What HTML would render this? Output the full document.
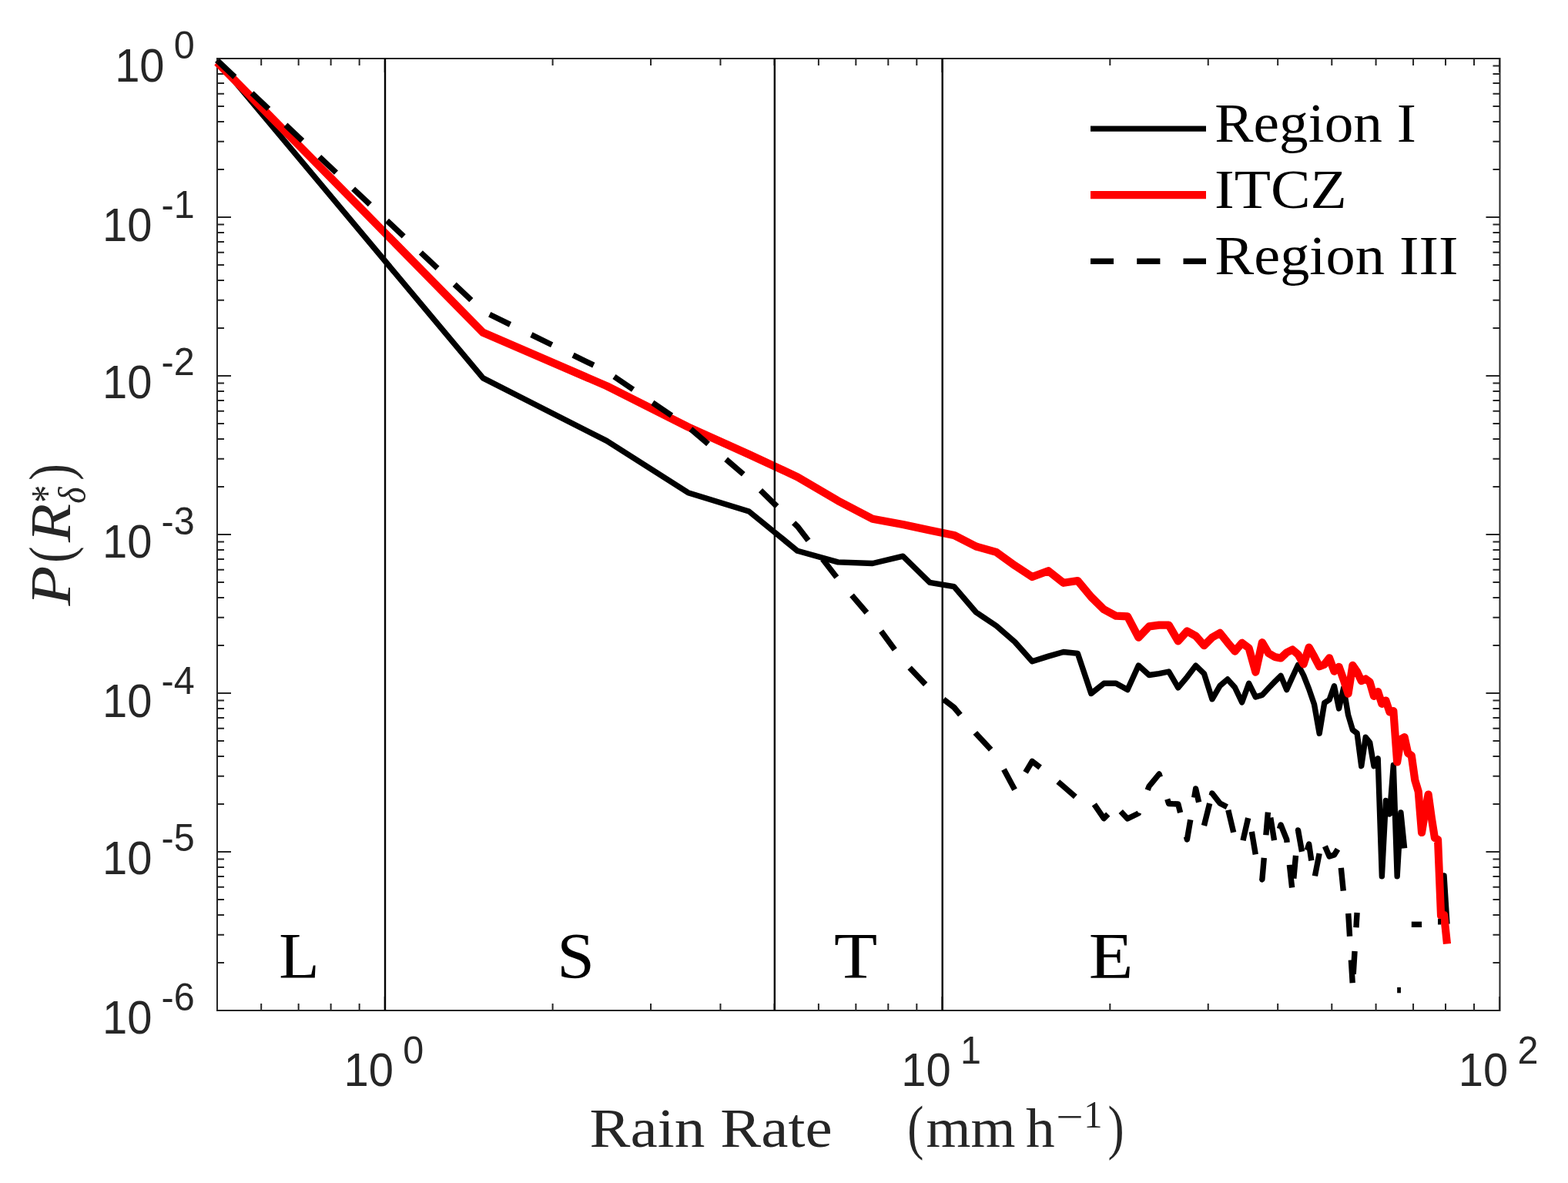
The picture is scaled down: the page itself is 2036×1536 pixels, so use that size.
<!DOCTYPE html>
<html><head><meta charset="utf-8"><title>Rain rate distribution</title>
<style>html,body{margin:0;padding:0;background:#fff;} svg{display:block;}</style></head>
<body>
<svg width="2036" height="1536" viewBox="0 0 2036 1536">
<rect width="2036" height="1536" fill="#fff"/>
<path d="M282,76.1L300,76.1 M1947.5,76.1L1929.5,76.1 M282,220.09L291,220.09 M1947.5,220.09L1938.5,220.09 M282,183.81L291,183.81 M1947.5,183.81L1938.5,183.81 M282,158.08L291,158.08 M1947.5,158.08L1938.5,158.08 M282,138.11L291,138.11 M1947.5,138.11L1938.5,138.11 M282,121.8L291,121.8 M1947.5,121.8L1938.5,121.8 M282,108.01L291,108.01 M1947.5,108.01L1938.5,108.01 M282,96.06L291,96.06 M1947.5,96.06L1938.5,96.06 M282,85.53L291,85.53 M1947.5,85.53L1938.5,85.53 M282,282.1L300,282.1 M1947.5,282.1L1929.5,282.1 M282,426.09L291,426.09 M1947.5,426.09L1938.5,426.09 M282,389.81L291,389.81 M1947.5,389.81L1938.5,389.81 M282,364.08L291,364.08 M1947.5,364.08L1938.5,364.08 M282,344.11L291,344.11 M1947.5,344.11L1938.5,344.11 M282,327.8L291,327.8 M1947.5,327.8L1938.5,327.8 M282,314.01L291,314.01 M1947.5,314.01L1938.5,314.01 M282,302.06L291,302.06 M1947.5,302.06L1938.5,302.06 M282,291.53L291,291.53 M1947.5,291.53L1938.5,291.53 M282,488.1L300,488.1 M1947.5,488.1L1929.5,488.1 M282,632.09L291,632.09 M1947.5,632.09L1938.5,632.09 M282,595.81L291,595.81 M1947.5,595.81L1938.5,595.81 M282,570.08L291,570.08 M1947.5,570.08L1938.5,570.08 M282,550.11L291,550.11 M1947.5,550.11L1938.5,550.11 M282,533.8L291,533.8 M1947.5,533.8L1938.5,533.8 M282,520.01L291,520.01 M1947.5,520.01L1938.5,520.01 M282,508.06L291,508.06 M1947.5,508.06L1938.5,508.06 M282,497.53L291,497.53 M1947.5,497.53L1938.5,497.53 M282,694.1L300,694.1 M1947.5,694.1L1929.5,694.1 M282,838.09L291,838.09 M1947.5,838.09L1938.5,838.09 M282,801.81L291,801.81 M1947.5,801.81L1938.5,801.81 M282,776.08L291,776.08 M1947.5,776.08L1938.5,776.08 M282,756.11L291,756.11 M1947.5,756.11L1938.5,756.11 M282,739.8L291,739.8 M1947.5,739.8L1938.5,739.8 M282,726.01L291,726.01 M1947.5,726.01L1938.5,726.01 M282,714.06L291,714.06 M1947.5,714.06L1938.5,714.06 M282,703.53L291,703.53 M1947.5,703.53L1938.5,703.53 M282,900.1L300,900.1 M1947.5,900.1L1929.5,900.1 M282,1044.09L291,1044.09 M1947.5,1044.09L1938.5,1044.09 M282,1007.81L291,1007.81 M1947.5,1007.81L1938.5,1007.81 M282,982.08L291,982.08 M1947.5,982.08L1938.5,982.08 M282,962.11L291,962.11 M1947.5,962.11L1938.5,962.11 M282,945.8L291,945.8 M1947.5,945.8L1938.5,945.8 M282,932.01L291,932.01 M1947.5,932.01L1938.5,932.01 M282,920.06L291,920.06 M1947.5,920.06L1938.5,920.06 M282,909.53L291,909.53 M1947.5,909.53L1938.5,909.53 M282,1106.1L300,1106.1 M1947.5,1106.1L1929.5,1106.1 M282,1250.09L291,1250.09 M1947.5,1250.09L1938.5,1250.09 M282,1213.81L291,1213.81 M1947.5,1213.81L1938.5,1213.81 M282,1188.08L291,1188.08 M1947.5,1188.08L1938.5,1188.08 M282,1168.11L291,1168.11 M1947.5,1168.11L1938.5,1168.11 M282,1151.8L291,1151.8 M1947.5,1151.8L1938.5,1151.8 M282,1138.01L291,1138.01 M1947.5,1138.01L1938.5,1138.01 M282,1126.06L291,1126.06 M1947.5,1126.06L1938.5,1126.06 M282,1115.53L291,1115.53 M1947.5,1115.53L1938.5,1115.53 M282,1312.1L300,1312.1 M1947.5,1312.1L1929.5,1312.1 M499.76,1312L499.76,1294 M499.76,76L499.76,94 M1223.46,1312L1223.46,1294 M1223.46,76L1223.46,94 M1947.16,1312L1947.16,1294 M1947.16,76L1947.16,94 M339.2,1312L339.2,1303 M339.2,76L339.2,85 M387.65,1312L387.65,1303 M387.65,76L387.65,85 M429.62,1312L429.62,1303 M429.62,76L429.62,85 M466.64,1312L466.64,1303 M466.64,76L466.64,85 M717.61,1312L717.61,1303 M717.61,76L717.61,85 M845.05,1312L845.05,1303 M845.05,76L845.05,85 M935.47,1312L935.47,1303 M935.47,76L935.47,85 M1005.6,1312L1005.6,1303 M1005.6,76L1005.6,85 M1062.9,1312L1062.9,1303 M1062.9,76L1062.9,85 M1111.35,1312L1111.35,1303 M1111.35,76L1111.35,85 M1153.32,1312L1153.32,1303 M1153.32,76L1153.32,85 M1190.34,1312L1190.34,1303 M1190.34,76L1190.34,85 M1441.31,1312L1441.31,1303 M1441.31,76L1441.31,85 M1568.75,1312L1568.75,1303 M1568.75,76L1568.75,85 M1659.17,1312L1659.17,1303 M1659.17,76L1659.17,85 M1729.3,1312L1729.3,1303 M1729.3,76L1729.3,85 M1786.6,1312L1786.6,1303 M1786.6,76L1786.6,85 M1835.05,1312L1835.05,1303 M1835.05,76L1835.05,85 M1877.02,1312L1877.02,1303 M1877.02,76L1877.02,85 M1914.04,1312L1914.04,1303 M1914.04,76L1914.04,85" stroke="#262626" stroke-width="2" fill="none"/>
<rect x="282" y="76" width="1665.5" height="1236" fill="none" stroke="#262626" stroke-width="2"/>
<g fill="none" stroke-linejoin="round" stroke-linecap="butt">
<path d="M281.9,78.3 L627.19,490.9 L787.74,572.4 L893.5,639.7 L972.49,664 L1035.56,715.3 L1088.06,729.9 L1133.04,731.5 L1172.38,722.2 L1207.33,756.4 L1238.79,761.6 L1267.38,795 L1293.59,812.5 L1317.78,833.5 L1340.24,858.7 L1361.2,852.1 L1380.85,846.5 L1399.34,848.4 L1416.81,900.5 L1433.35,887.3 L1449.07,887.3 L1464.04,895.6 L1478.33,864 L1492,876.5 L1505.09,874.6 L1517.67,872 L1529.76,892.8 L1541.4,879.1 L1552.63,864.2 L1563.47,874.6 L1573.94,907.8 L1584.08,890.3 L1593.91,882 L1603.43,892.5 L1612.68,911.8 L1621.66,887.3 L1630.39,905 L1638.88,902.4 L1647.15,893.5 L1655.21,885.2 L1663.07,877.4 L1670.74,895.6 L1678.22,879 L1685.53,863.3 L1692.67,876.9 L1699.66,894.6 L1706.49,914.5 L1713.18,952.3 L1719.73,912.7 L1726.14,908.5 L1732.43,890.8 L1738.59,920 L1744.63,893 L1750.57,928.3 L1756.39,947.8 L1762.1,952 L1767.71,994.7 L1773.23,957.2 L1778.65,964 L1783.97,994.7 L1789.21,984.8 L1794.36,1137.8 L1799.43,1039.4 L1804.42,1057 L1809.33,993.5 L1814.17,1137.8 L1818.93,1055 L1823.62,1101.4" stroke="#000" stroke-width="7.4"/>
<path d="M1871.07,1160 L1875.05,1137 L1878.98,1199.7" stroke="#000" stroke-width="7.4"/>
<path d="M281.9,80.8 L627.19,431.8 L787.74,501.1 L893.5,554.4 L972.49,590 L1035.56,619.3 L1088.06,650.2 L1133.04,673.7 L1172.38,681 L1207.33,688.4 L1238.79,694.9 L1267.38,709.5 L1293.59,716.8 L1317.78,734.3 L1340.24,749 L1361.2,741.2 L1380.85,756.8 L1399.34,754 L1416.81,775 L1433.35,791.3 L1449.07,799.7 L1464.04,800.4 L1478.33,827.7 L1492,813.4 L1505.09,811.6 L1517.67,811.6 L1529.76,832.4 L1541.4,819.5 L1552.63,825.7 L1563.47,838.1 L1573.94,827.7 L1584.08,821.8 L1593.91,834.2 L1603.43,845.6 L1612.68,834.7 L1621.66,841.5 L1630.39,872.7 L1638.88,834.2 L1647.15,848.2 L1655.21,852.9 L1663.07,854.5 L1670.74,847.2 L1678.22,843.5 L1685.53,849.8 L1692.67,862.3 L1699.66,840.6 L1706.49,852.6 L1713.18,865.3 L1719.73,862.7 L1726.14,854.4 L1732.43,871.6 L1738.59,865.8 L1744.63,882.5 L1750.57,900.7 L1756.39,863.8 L1762.1,872.1 L1767.71,884.1 L1773.23,881.5 L1778.65,885.6 L1783.97,903.9 L1789.21,898.1 L1794.36,913.8 L1799.43,909.6 L1804.42,924.5 L1809.33,923.1 L1814.17,989.4 L1818.93,960 L1823.62,957.2 L1828.24,978 L1832.8,981 L1837.29,1013 L1841.72,1027.7 L1846.08,1081 L1850.39,1054 L1854.63,1031.5 L1858.83,1062 L1862.96,1088 L1867.04,1090 L1871.07,1189 L1875.05,1188 L1878.98,1225.5" stroke="#f00" stroke-width="10.2"/>
<path d="M283.21,79.54 L304.88,99.99 M327.07,120.92 L348.74,141.37 M370.93,162.3 L392.6,182.75 M414.78,203.68 L436.46,224.13 M458.64,245.07 L480.32,265.52 M502.5,286.45 L524.18,306.9 M546.36,327.83 L568.04,348.28 M590.22,369.21 L611.89,389.66 M635.7,408.25 L662.48,421.31 M689.9,434.68 L716.68,447.74 M744.1,461.11 L770.88,474.18 M797.46,488.99 L822.13,505.71 M847.37,522.83 L872.04,539.55 M896.96,557.08 L919.56,576.51 M942.69,596.39 L965.29,615.81 M987.52,636.68 L1008.83,657.5 M1030.65,678.81 L1035.56,683.6 L1049.55,701.78 M1068.16,725.95 L1086.34,749.56 M1106.05,772.84 L1125.41,795.49 M1144.16,819.52 L1161.81,843.53 M1181.12,867.06 L1201.71,888.61 M1225.1,908.06 L1238.79,918.5 L1246.88,928.14 M1266.39,951.42 L1267.38,952.6 L1286.65,973.26 M1303.46,999.06 L1317.57,1025.31 M1331.6,1002.81 L1340.24,988.5 L1350.64,996.44 M1373.74,1015.03 L1380.85,1021 L1396.37,1034.43 M1420.85,1044.31 L1433.35,1062.6 L1438.78,1057.21 M1455.22,1053.57 L1464.04,1063 L1478.33,1056 L1478.68,1055.1 M1490.15,1025.73 L1492,1021 L1505.09,1005 L1506.35,1008.85 M1515.75,1037.63 L1517.67,1043.5 L1529.76,1044 L1532.59,1055.17 M1540.47,1086.33 L1541.4,1090 L1545.76,1064.35 M1550.67,1035.51 L1552.63,1024 L1556.62,1041.67 M1563.47,1071.99 L1570.68,1043.07 M1573.23,1032.87 L1573.94,1030 L1584.08,1043 L1593.31,1047.7 M1594.8,1051.76 L1601.7,1080.75 M1614,1091.23 L1620.69,1062.19 M1625.33,1079.89 L1630.27,1109.28 M1638.5,1140.55 L1638.88,1142 L1641.31,1113.81 M1643.85,1084.3 L1646.41,1054.61 M1649.73,1061.65 L1654.56,1091.06 M1661.41,1076.06 L1663.07,1071 L1670.74,1090 L1671.17,1093.96 M1674.36,1122.88 L1677.62,1152.5 M1679.81,1140.6 L1682.52,1110.93 M1685.38,1079.61 L1685.53,1078 L1690.49,1105.75 M1697.17,1103.84 L1699.66,1096 L1702.83,1117.34 M1707.41,1137.35 L1713.16,1108.11 M1720.45,1098.69 L1726.14,1112 L1732.43,1110 L1737,1102.57 M1741.31,1126.96 L1744.29,1156.61 M1750.75,1186.08 L1752.56,1215.82 M1754.41,1246.41 L1756.21,1276.16 M1757.25,1264.84 L1759.05,1235.09 M1760.93,1204.31 L1762.1,1185" stroke="#000" stroke-width="7.4"/>
<path d="M1814.17,1285.6 L1818.93,1285.6" stroke="#000" stroke-width="7.4" stroke-dasharray="30 30"/>
<path d="M1832.8,1200.3 L1837.29,1200.3 L1841.72,1200.3 L1846.08,1200.3" stroke="#000" stroke-width="7.4" stroke-dasharray="30 30"/>
<path d="M1867.04,1196.8 L1871.07,1196.8" stroke="#000" stroke-width="7.4" stroke-dasharray="30 30"/>
</g>
<line x1="500.01" y1="76" x2="500.01" y2="1312" stroke="#000" stroke-width="2.4"/>
<line x1="1005.85" y1="76" x2="1005.85" y2="1312" stroke="#000" stroke-width="2.4"/>
<line x1="1223.71" y1="76" x2="1223.71" y2="1312" stroke="#000" stroke-width="2.4"/>
<text transform="translate(446.46,1410) scale(0.9350,1)" style="font-family:'Liberation Sans', Arial, sans-serif;font-size:62px" fill="#262626">10</text>
<text transform="translate(523.22,1380.9) scale(0.9700,1)" style="font-family:'Liberation Sans', Arial, sans-serif;font-size:50px" fill="#262626">0</text>
<text transform="translate(1170.16,1410) scale(0.9350,1)" style="font-family:'Liberation Sans', Arial, sans-serif;font-size:62px" fill="#262626">10</text>
<text transform="translate(1246.92,1380.9) scale(0.9700,1)" style="font-family:'Liberation Sans', Arial, sans-serif;font-size:50px" fill="#262626">1</text>
<text transform="translate(1893.86,1410) scale(0.9350,1)" style="font-family:'Liberation Sans', Arial, sans-serif;font-size:62px" fill="#262626">10</text>
<text transform="translate(1970.62,1380.9) scale(0.9700,1)" style="font-family:'Liberation Sans', Arial, sans-serif;font-size:50px" fill="#262626">2</text>
<text transform="translate(149.13,106) scale(0.9350,1)" style="font-family:'Liberation Sans', Arial, sans-serif;font-size:62px" fill="#262626">10</text>
<text transform="translate(225.63,76.2) scale(0.9700,1)" style="font-family:'Liberation Sans', Arial, sans-serif;font-size:50px" fill="#262626">0</text>
<text transform="translate(132.98,313.1) scale(0.9350,1)" style="font-family:'Liberation Sans', Arial, sans-serif;font-size:62px" fill="#262626">10</text>
<text transform="translate(209.48,283.3) scale(0.9700,1)" style="font-family:'Liberation Sans', Arial, sans-serif;font-size:50px" fill="#262626">-1</text>
<text transform="translate(132.98,516.7) scale(0.9350,1)" style="font-family:'Liberation Sans', Arial, sans-serif;font-size:62px" fill="#262626">10</text>
<text transform="translate(209.48,486.9) scale(0.9700,1)" style="font-family:'Liberation Sans', Arial, sans-serif;font-size:50px" fill="#262626">-2</text>
<text transform="translate(132.98,723.9) scale(0.9350,1)" style="font-family:'Liberation Sans', Arial, sans-serif;font-size:62px" fill="#262626">10</text>
<text transform="translate(209.48,694.1) scale(0.9700,1)" style="font-family:'Liberation Sans', Arial, sans-serif;font-size:50px" fill="#262626">-3</text>
<text transform="translate(132.98,931.1) scale(0.9350,1)" style="font-family:'Liberation Sans', Arial, sans-serif;font-size:62px" fill="#262626">10</text>
<text transform="translate(209.48,901.3) scale(0.9700,1)" style="font-family:'Liberation Sans', Arial, sans-serif;font-size:50px" fill="#262626">-4</text>
<text transform="translate(132.98,1134.7) scale(0.9350,1)" style="font-family:'Liberation Sans', Arial, sans-serif;font-size:62px" fill="#262626">10</text>
<text transform="translate(209.48,1104.9) scale(0.9700,1)" style="font-family:'Liberation Sans', Arial, sans-serif;font-size:50px" fill="#262626">-5</text>
<text transform="translate(132.98,1342) scale(0.9350,1)" style="font-family:'Liberation Sans', Arial, sans-serif;font-size:62px" fill="#262626">10</text>
<text transform="translate(209.48,1312.2) scale(0.9700,1)" style="font-family:'Liberation Sans', Arial, sans-serif;font-size:50px" fill="#262626">-6</text>
<text transform="translate(362.32,1269.5) scale(1.0200,1)" style="font-family:'Liberation Serif', 'Times New Roman', serif;font-size:84.2px" fill="#000">L</text>
<text transform="translate(723.31,1269.5) scale(1.0400,1)" style="font-family:'Liberation Serif', 'Times New Roman', serif;font-size:84.2px" fill="#000">S</text>
<text transform="translate(1083.06,1269.5) scale(1.0930,1)" style="font-family:'Liberation Serif', 'Times New Roman', serif;font-size:84.2px" fill="#000">T</text>
<text transform="translate(1413.76,1269.5) scale(1.1230,1)" style="font-family:'Liberation Serif', 'Times New Roman', serif;font-size:84.2px" fill="#000">E</text>
<line x1="1416" y1="167.1" x2="1566" y2="167.1" stroke="#000" stroke-width="7.4"/>
<line x1="1416" y1="253.2" x2="1566" y2="253.2" stroke="#f00" stroke-width="10.2"/>
<path d="M1416,339.3H1446M1476.2,339.3H1506.4M1536.5,339.3H1566" stroke="#000" stroke-width="7.4"/>
<text transform="translate(1577.34,183.9) scale(1.0340,1)" style="font-family:'Liberation Serif', 'Times New Roman', serif;font-size:72.9px" fill="#000">Region I</text>
<text transform="translate(1576.89,270.2) scale(1.0610,1)" style="font-family:'Liberation Serif', 'Times New Roman', serif;font-size:72.9px" fill="#000">ITCZ</text>
<text transform="translate(1577.31,355.5) scale(1.0480,1)" style="font-family:'Liberation Serif', 'Times New Roman', serif;font-size:72.9px" fill="#000">Region III</text>
<text transform="translate(765.52,1488.5) scale(1.1180,1)" style="font-family:'Liberation Serif', 'Times New Roman', serif;font-size:71px" fill="#262626">Rain Rate</text>
<text transform="translate(1178.24,1489.7) scale(0.8100,1)" style="font-family:'Liberation Serif', 'Times New Roman', serif;font-size:78.4px" fill="#262626">(</text>
<text transform="translate(1202.41,1489) scale(1.0510,1)" style="font-family:'Liberation Serif', 'Times New Roman', serif;font-size:71px" fill="#262626">mm</text>
<text transform="translate(1332.05,1489) scale(1.0620,1)" style="font-family:'Liberation Serif', 'Times New Roman', serif;font-size:71px" fill="#262626">h</text>
<text transform="translate(1370.95,1467.1) scale(1.2600,1)" style="font-family:'Liberation Serif', 'Times New Roman', serif;font-size:50px" fill="#262626">&#8722;</text>
<text transform="translate(1407.23,1463.5) scale(0.9700,1)" style="font-family:'Liberation Serif', 'Times New Roman', serif;font-size:50px" fill="#262626">1</text>
<text transform="translate(1438.49,1489.7) scale(0.8100,1)" style="font-family:'Liberation Serif', 'Times New Roman', serif;font-size:78.4px" fill="#262626">)</text>
<g transform="translate(91.2,787) rotate(-90)"><text transform="translate(0.43,0) scale(1.1600,1)" style="font-family:'Liberation Serif', 'Times New Roman', serif;font-size:73.3px;font-style:italic" fill="#262626">P</text><text transform="translate(56.2,1.1) scale(0.8200,1)" style="font-family:'Liberation Serif', 'Times New Roman', serif;font-size:78.4px" fill="#262626">(</text><text transform="translate(83.1,0) scale(1.1200,1)" style="font-family:'Liberation Serif', 'Times New Roman', serif;font-size:73.3px;font-style:italic" fill="#262626">R</text><text transform="translate(134.3,-11) scale(0.8000,1)" style="font-family:'Liberation Serif', 'Times New Roman', serif;font-size:57.3px" fill="#262626">*</text><text transform="translate(133.3,20) scale(0.9000,1)" style="font-family:'Liberation Serif', 'Times New Roman', serif;font-size:50.4px;font-style:italic" fill="#262626">&#948;</text><text transform="translate(163.3,1.1) scale(0.8300,1)" style="font-family:'Liberation Serif', 'Times New Roman', serif;font-size:78.4px" fill="#262626">)</text></g>
</svg>
</body></html>
